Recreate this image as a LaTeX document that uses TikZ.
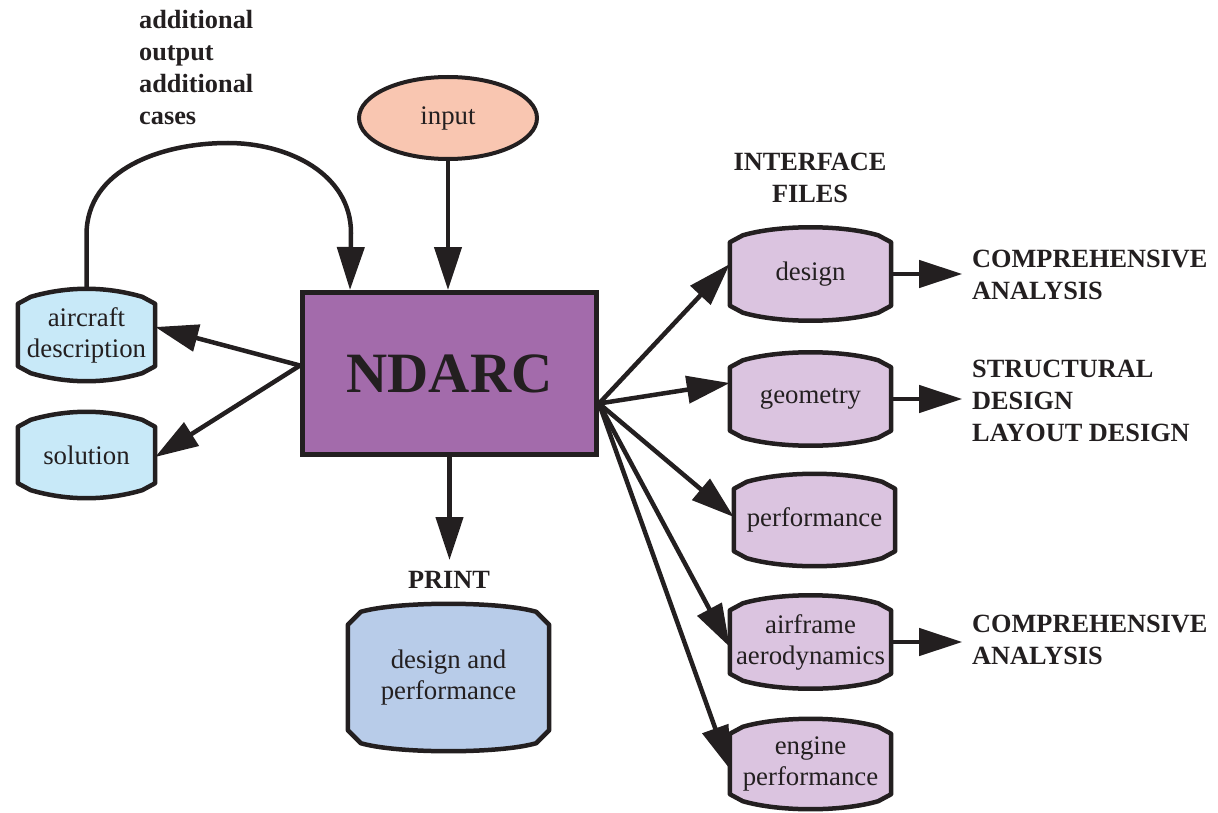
\documentclass[tikz,border=0pt]{standalone}
\usepackage{fontspec}
\setmainfont{Liberation Serif}
\usetikzlibrary{arrows.meta,calc,backgrounds,shapes.geometric}
\definecolor{ink}{HTML}{231F20}
\definecolor{inputfill}{HTML}{F9C6B1}
\definecolor{ndarcfill}{HTML}{A36BAB}
\definecolor{leftfill}{HTML}{C8E9F8}
\definecolor{printfill}{HTML}{B8CCE9}
\definecolor{rightfill}{HTML}{DBC4E0}
\newcommand\cylout[3]{% node, fill, chamfer depth
  \path[draw=ink, line width=4.5pt, fill=#2, line join=round]
   let \p1=(#1.north west), \p2=(#1.south east) in
   (\x1,\y1-#3) -- (\x1+13pt,\y1-8pt)
   .. controls (\x1+50pt,\y1+2.7pt) and (\x2-50pt,\y1+2.7pt) .. (\x2-13pt,\y1-8pt)
   -- (\x2,\y1-#3) -- (\x2,\y2+#3) -- (\x2-13pt,\y2+8pt)
   .. controls (\x2-50pt,\y2-2.7pt) and (\x1+50pt,\y2-2.7pt) .. (\x1+13pt,\y2+8pt)
   -- (\x1,\y2+#3) -- cycle;}
\begin{document}
\begin{tikzpicture}[x=1pt,y=-1pt,
  txt/.style={font=\fontsize{26.8}{31}\selectfont, align=center, inner sep=0pt, text=ink},
  bl/.style={font=\bfseries\fontsize{26.3}{32}\selectfont, align=left, inner sep=0pt, text=ink},
  cyl/.style={txt, minimum width=#1},
  arr/.style={draw=ink, line width=4.5pt, -{Triangle[length=43pt,width=27pt]}}]
\useasboundingbox (0,0) rectangle (1218,813);

% nodes
\node[draw=ink, line width=4pt, fill=inputfill, ellipse, minimum width=178pt, minimum height=82pt, txt] (input) at (448,118) {input};
\node[draw=ink, line width=5pt, fill=ndarcfill, minimum width=294pt, minimum height=162pt, inner sep=0pt,
      font=\bfseries\fontsize{57}{60}\selectfont, text=ink] (ndarc) at (449.5,373.5) {NDARC};

\node[cyl=137pt, minimum height=92pt] (acdesc) at (86.5,335) {aircraft\\description};
\node[cyl=137pt, minimum height=86pt] (solution) at (86.5,455) {solution};

\node[cyl=201pt, minimum height=147pt] (print) at (448.5,677.5) {design and\\performance};
\node[bl, align=center] (printlbl) at (449,580) {PRINT};

\node[cyl=161pt, minimum height=93pt] (design) at (810.5,274) {design};
\node[cyl=161pt, minimum height=93pt] (geometry) at (810.5,399) {geometry};
\node[cyl=161pt, minimum height=92pt] (perf) at (814.5,520) {performance};
\node[cyl=161pt, minimum height=93pt] (aero) at (810.5,642) {airframe\\aerodynamics};
\node[cyl=161pt, minimum height=90pt] (engine) at (810.5,764) {engine\\performance};

\node[bl, align=center, anchor=north] (iflabel) at (810,153) {INTERFACE\\FILES};
\node[bl, anchor=north west] (comp1) at (972,250) {COMPREHENSIVE\\ANALYSIS};
\node[bl, anchor=north west] (struct) at (972,360) {STRUCTURAL\\DESIGN\\LAYOUT DESIGN};
\node[bl, anchor=north west] (comp2) at (972,615) {COMPREHENSIVE\\ANALYSIS};
\node[bl, anchor=north west] (addl) at (139,10) {additional\\output\\additional\\cases};

\begin{scope}[on background layer]
\cylout{acdesc}{leftfill}{15pt}
\cylout{solution}{leftfill}{15pt}
\cylout{print}{printfill}{21pt}
\cylout{design}{rightfill}{15pt}
\cylout{geometry}{rightfill}{15pt}
\cylout{perf}{rightfill}{15pt}
\cylout{aero}{rightfill}{15pt}
\cylout{engine}{rightfill}{15pt}
\end{scope}

% connectors
\draw[arr] (input.south) -- (input.south |- ndarc.north);
\draw[arr] (acdesc.north) -- ++(0,-54) to[out=90,in=180] (228,143) to[out=0,in=90] (351,233) -- ([xshift=50pt]ndarc.north west);
\coordinate (lo) at ([yshift=8pt]ndarc.west);
\draw[arr] (lo) -- ([yshift=8pt]acdesc.east);
\draw[arr] (lo) -- ([yshift=-2pt]solution.east);
\draw[arr] (ndarc.south) -- ++(0,103);
\coordinate (ro) at ([yshift=-30pt]ndarc.east);
\draw[arr] (ro) -- ([yshift=10pt]design.west);
\draw[arr] (ro) -- ([yshift=16pt]geometry.west);
\draw[arr] (ro) -- ([yshift=3pt]perf.west);
\draw[arr] (ro) -- ([yshift=-5pt]aero.west);
\draw[arr] (ro) -- ([yshift=-5pt]engine.west);
\draw[arr] (design.east) -- ++(71,0);
\draw[arr] (geometry.east) -- ++(71,0);
\draw[arr] (aero.east) -- ++(71,0);
\end{tikzpicture}
\end{document}
